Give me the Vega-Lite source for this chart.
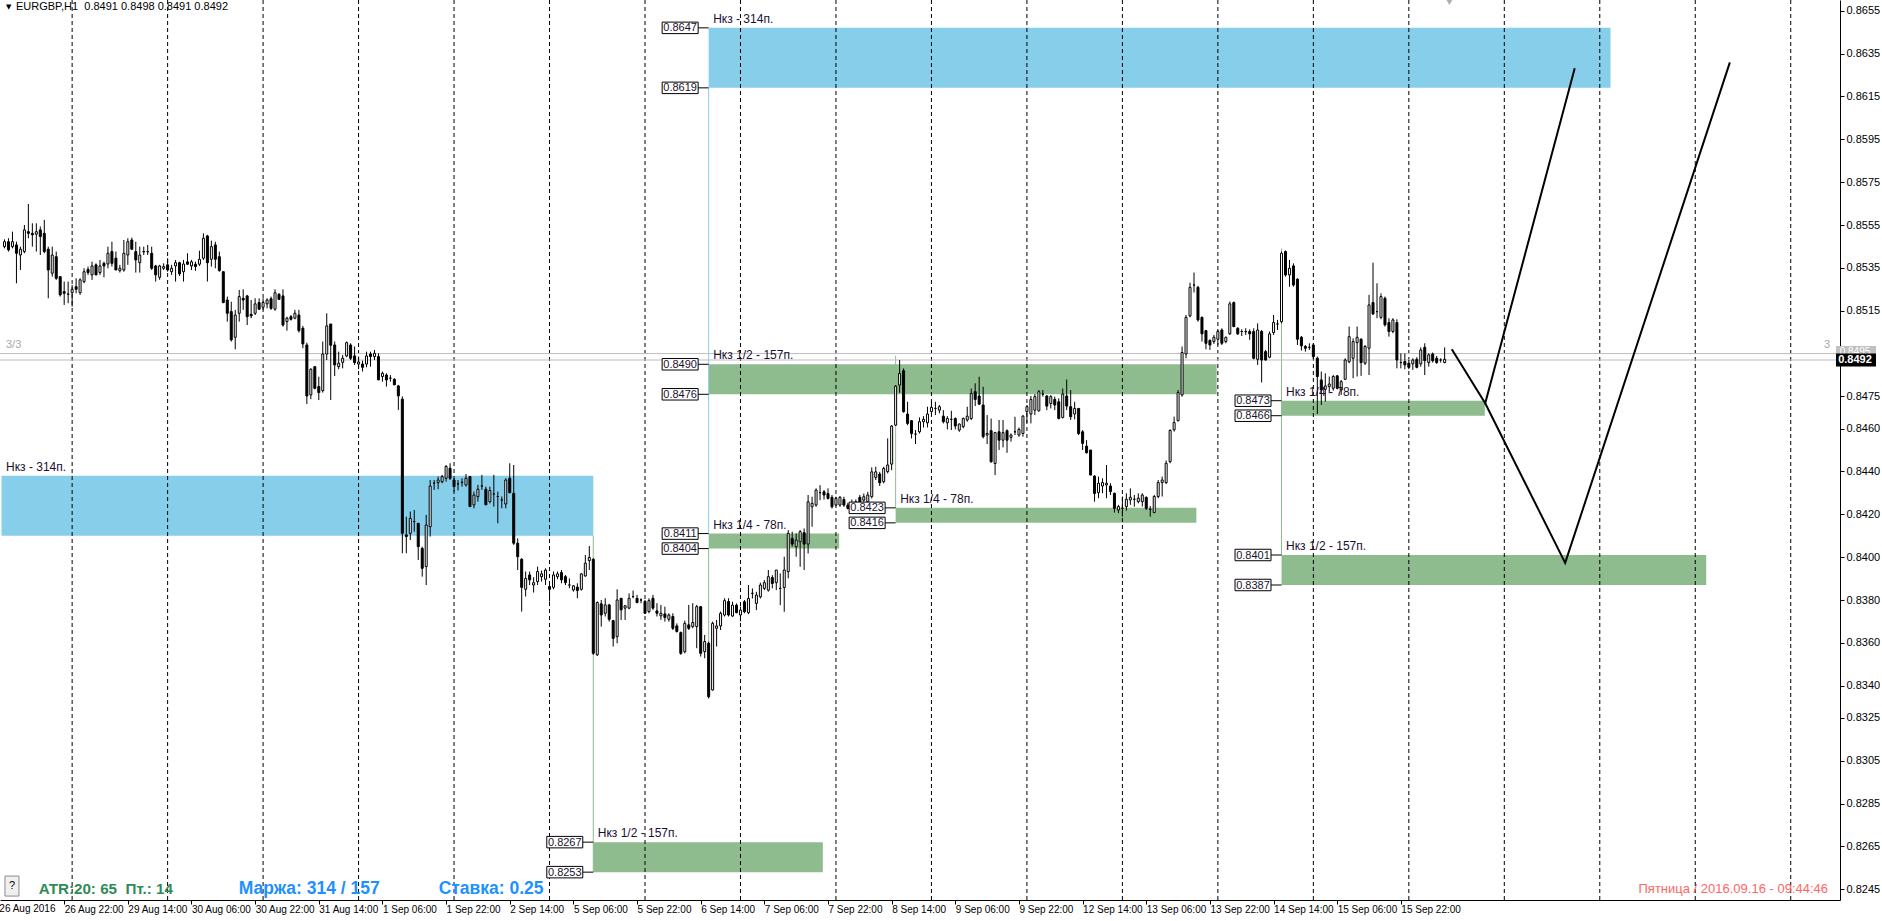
{
"$schema": "https://vega.github.io/schema/vega-lite/v6.json",
"width": 1840, "height": 900,
"autosize": {"type": "none"},
"padding": {"left": 0, "top": 0, "right": 42, "bottom": 21},
"background": "white",
"config": {"view": {"stroke": null}, "font": "Liberation Sans"},
"datasets": {
"one": [{}],
"zones": [
{"i":160,"i2":386.7,"p":0.8619,"p2":0.8647,"level":"full","label":"Нкз - 314п."},
{"i":160,"i2":287.7,"p":0.8476,"p2":0.8490,"level":"half","label":"Нкз 1/2 - 157п."},
{"i":160,"i2":192.8,"p":0.8404,"p2":0.8411,"level":"quarter","label":"Нкз 1/4 - 78п."},
{"i":-17.75,"i2":131,"p":0.8410,"p2":0.8438,"level":"full","label":"Нкз - 314п."},
{"i":131,"i2":188.7,"p":0.8253,"p2":0.8267,"level":"half","label":"Нкз 1/2 - 157п."},
{"i":207,"i2":282.6,"p":0.8416,"p2":0.8423,"level":"quarter","label":"Нкз 1/4 - 78п."},
{"i":304,"i2":355.1,"p":0.8466,"p2":0.8473,"level":"quarter","label":"Нкз 1/4 - 78п."},
{"i":304,"i2":410.75,"p":0.8387,"p2":0.8401,"level":"half","label":"Нкз 1/2 - 157п."}
],
"links": [
{"i":160,"p":0.8619,"p2":0.8411,"level":"full"},
{"i":160,"p":0.8404,"p2":0.8334,"level":"half"},
{"i":131,"p":0.8410,"p2":0.8253,"level":"half"},
{"i":207,"p":0.8423,"p2":0.8494,"level":"quarter"},
{"i":304,"p":0.8401,"p2":0.8544,"level":"quarter"}
],
"seps": [{"i":0},{"i":24},{"i":48},{"i":72},{"i":96},{"i":120},{"i":144},{"i":168},{"i":192},{"i":216},{"i":240},{"i":264},{"i":288},{"i":312},{"i":336},{"i":360},{"i":384},{"i":408},{"i":432}],
"plines": [{"p":0.8495},{"p":0.8492}],
"fc": [
{"s":"a","k":0,"i":346.8,"p":0.8497},{"s":"a","k":1,"i":355.2,"p":0.84718},{"s":"a","k":2,"i":377.7,"p":0.86281},
{"s":"b","k":0,"i":355.2,"p":0.84718},{"s":"b","k":1,"i":375.3,"p":0.83973},{"s":"b","k":2,"i":416.7,"p":0.86309}
],
"candles": [
{"i":-17,"o":0.85449,"h":0.85483,"l":0.85441,"c":0.85472},
{"i":-16,"o":0.85472,"h":0.85488,"l":0.85426,"c":0.85434},
{"i":-15,"o":0.85449,"h":0.85519,"l":0.85441,"c":0.85472},
{"i":-14,"o":0.85457,"h":0.85472,"l":0.85278,"c":0.85418},
{"i":-13,"o":0.8541,"h":0.85449,"l":0.8534,"c":0.85437},
{"i":-12,"o":0.85426,"h":0.8555,"l":0.85418,"c":0.85527},
{"i":-11,"o":0.85519,"h":0.85648,"l":0.85488,"c":0.85511},
{"i":-10,"o":0.85511,"h":0.85558,"l":0.85449,"c":0.85504},
{"i":-9,"o":0.85507,"h":0.85558,"l":0.85426,"c":0.85519},
{"i":-8,"o":0.85527,"h":0.85543,"l":0.8541,"c":0.85496},
{"i":-7,"o":0.85511,"h":0.85574,"l":0.85418,"c":0.85426},
{"i":-6,"o":0.85437,"h":0.85449,"l":0.85208,"c":0.8534},
{"i":-5,"o":0.85325,"h":0.85449,"l":0.85309,"c":0.8541},
{"i":-4,"o":0.85402,"h":0.85426,"l":0.85294,"c":0.85301},
{"i":-3,"o":0.85309,"h":0.85309,"l":0.85216,"c":0.85224},
{"i":-2,"o":0.85239,"h":0.85286,"l":0.85177,"c":0.85231},
{"i":-1,"o":0.85228,"h":0.85286,"l":0.85185,"c":0.85227},
{"i":0,"o":0.85234,"h":0.8527,"l":0.85169,"c":0.8525},
{"i":1,"o":0.85262,"h":0.85301,"l":0.85231,"c":0.8525},
{"i":2,"o":0.85234,"h":0.85301,"l":0.85224,"c":0.85294},
{"i":3,"o":0.85286,"h":0.85348,"l":0.85278,"c":0.85332},
{"i":4,"o":0.85343,"h":0.85356,"l":0.85317,"c":0.85328},
{"i":5,"o":0.85317,"h":0.85379,"l":0.85294,"c":0.85359},
{"i":6,"o":0.85364,"h":0.85371,"l":0.85317,"c":0.85317},
{"i":7,"o":0.85328,"h":0.85387,"l":0.85317,"c":0.85359},
{"i":8,"o":0.85371,"h":0.85379,"l":0.85306,"c":0.85359},
{"i":9,"o":0.85368,"h":0.85449,"l":0.85348,"c":0.85418},
{"i":10,"o":0.85426,"h":0.85472,"l":0.85356,"c":0.85371},
{"i":11,"o":0.85395,"h":0.85426,"l":0.8534,"c":0.8534},
{"i":12,"o":0.85337,"h":0.85364,"l":0.85328,"c":0.85348},
{"i":13,"o":0.8534,"h":0.8548,"l":0.85332,"c":0.85418},
{"i":14,"o":0.8541,"h":0.85488,"l":0.85364,"c":0.85472},
{"i":15,"o":0.8548,"h":0.85491,"l":0.85434,"c":0.85437},
{"i":16,"o":0.85426,"h":0.85472,"l":0.85328,"c":0.85387},
{"i":17,"o":0.85374,"h":0.85449,"l":0.85328,"c":0.8541},
{"i":18,"o":0.85426,"h":0.85449,"l":0.8541,"c":0.85425},
{"i":19,"o":0.85425,"h":0.85457,"l":0.8541,"c":0.85426},
{"i":20,"o":0.85418,"h":0.85449,"l":0.8534,"c":0.85348},
{"i":21,"o":0.85359,"h":0.85364,"l":0.85286,"c":0.85317},
{"i":22,"o":0.85306,"h":0.85364,"l":0.85294,"c":0.85359},
{"i":23,"o":0.85348,"h":0.85371,"l":0.8534,"c":0.85356},
{"i":24,"o":0.85364,"h":0.85395,"l":0.85332,"c":0.8534},
{"i":25,"o":0.85332,"h":0.85364,"l":0.85317,"c":0.85348},
{"i":26,"o":0.85359,"h":0.85387,"l":0.85286,"c":0.85374},
{"i":27,"o":0.85374,"h":0.85379,"l":0.85312,"c":0.85322},
{"i":28,"o":0.85332,"h":0.85387,"l":0.85286,"c":0.85368},
{"i":29,"o":0.85378,"h":0.85418,"l":0.85364,"c":0.85367},
{"i":30,"o":0.85359,"h":0.85387,"l":0.8534,"c":0.85378},
{"i":31,"o":0.85367,"h":0.85379,"l":0.85336,"c":0.85356},
{"i":32,"o":0.85367,"h":0.8543,"l":0.85359,"c":0.8539},
{"i":33,"o":0.85395,"h":0.85511,"l":0.85387,"c":0.85488},
{"i":34,"o":0.85499,"h":0.85504,"l":0.85286,"c":0.85374},
{"i":35,"o":0.8539,"h":0.85477,"l":0.85356,"c":0.85449},
{"i":36,"o":0.85457,"h":0.85472,"l":0.85348,"c":0.8539},
{"i":37,"o":0.85402,"h":0.85426,"l":0.85332,"c":0.85337},
{"i":38,"o":0.85332,"h":0.85332,"l":0.85185,"c":0.85188},
{"i":39,"o":0.852,"h":0.85216,"l":0.85099,"c":0.85138},
{"i":40,"o":0.85146,"h":0.85192,"l":0.85006,"c":0.85014},
{"i":41,"o":0.85026,"h":0.85154,"l":0.8497,"c":0.8513},
{"i":42,"o":0.85138,"h":0.85247,"l":0.85099,"c":0.85216},
{"i":43,"o":0.85208,"h":0.8525,"l":0.85154,"c":0.852},
{"i":44,"o":0.85219,"h":0.85224,"l":0.85083,"c":0.85122},
{"i":45,"o":0.85133,"h":0.852,"l":0.85115,"c":0.85126},
{"i":46,"o":0.85138,"h":0.85208,"l":0.8513,"c":0.85182},
{"i":47,"o":0.85188,"h":0.85208,"l":0.85154,"c":0.85157},
{"i":48,"o":0.85166,"h":0.85208,"l":0.85154,"c":0.85188},
{"i":49,"o":0.85182,"h":0.85208,"l":0.85161,"c":0.852},
{"i":50,"o":0.85206,"h":0.85216,"l":0.85154,"c":0.85161},
{"i":51,"o":0.85157,"h":0.8525,"l":0.8515,"c":0.85234},
{"i":52,"o":0.85227,"h":0.85231,"l":0.852,"c":0.85203},
{"i":53,"o":0.85219,"h":0.8525,"l":0.85076,"c":0.85083},
{"i":54,"o":0.85099,"h":0.85122,"l":0.85057,"c":0.85115},
{"i":55,"o":0.85122,"h":0.8513,"l":0.85104,"c":0.8511},
{"i":56,"o":0.85115,"h":0.85154,"l":0.8511,"c":0.85138},
{"i":57,"o":0.8513,"h":0.85154,"l":0.85048,"c":0.85057},
{"i":58,"o":0.85068,"h":0.85079,"l":0.84975,"c":0.84995},
{"i":59,"o":0.8499,"h":0.85001,"l":0.84715,"c":0.84752},
{"i":60,"o":0.84757,"h":0.84881,"l":0.84737,"c":0.84877},
{"i":61,"o":0.84889,"h":0.84889,"l":0.84783,"c":0.84788},
{"i":62,"o":0.84796,"h":0.84842,"l":0.84733,"c":0.84768},
{"i":63,"o":0.84777,"h":0.85006,"l":0.84768,"c":0.84948},
{"i":64,"o":0.84948,"h":0.85138,"l":0.8492,"c":0.85079},
{"i":65,"o":0.85088,"h":0.85088,"l":0.84733,"c":0.84989},
{"i":66,"o":0.8499,"h":0.85006,"l":0.84845,"c":0.84897},
{"i":67,"o":0.84889,"h":0.84959,"l":0.84877,"c":0.84905},
{"i":68,"o":0.84909,"h":0.84943,"l":0.84881,"c":0.84928},
{"i":69,"o":0.84939,"h":0.85006,"l":0.84933,"c":0.85001},
{"i":70,"o":0.8499,"h":0.84998,"l":0.8492,"c":0.84928},
{"i":71,"o":0.84939,"h":0.84983,"l":0.84897,"c":0.84908},
{"i":72,"o":0.84901,"h":0.84936,"l":0.84877,"c":0.84911},
{"i":73,"o":0.84901,"h":0.84917,"l":0.84866,"c":0.84886},
{"i":74,"o":0.84901,"h":0.84959,"l":0.84886,"c":0.84939},
{"i":75,"o":0.84948,"h":0.84959,"l":0.84889,"c":0.84936},
{"i":76,"o":0.84936,"h":0.84967,"l":0.8492,"c":0.84951},
{"i":77,"o":0.84936,"h":0.84951,"l":0.84827,"c":0.84827},
{"i":78,"o":0.84843,"h":0.84866,"l":0.84819,"c":0.84858},
{"i":79,"o":0.8485,"h":0.84858,"l":0.84796,"c":0.84827},
{"i":80,"o":0.84835,"h":0.8485,"l":0.84819,"c":0.84835},
{"i":81,"o":0.8483,"h":0.84835,"l":0.84804,"c":0.84804},
{"i":82,"o":0.84799,"h":0.84804,"l":0.84687,"c":0.84752},
{"i":83,"o":0.84737,"h":0.8475,"l":0.84018,"c":0.84111},
{"i":84,"o":0.84104,"h":0.84189,"l":0.84018,"c":0.84096},
{"i":85,"o":0.84111,"h":0.84213,"l":0.8408,"c":0.84181},
{"i":86,"o":0.84166,"h":0.8422,"l":0.84119,"c":0.84166},
{"i":87,"o":0.84158,"h":0.84158,"l":0.83987,"c":0.84049},
{"i":88,"o":0.84041,"h":0.84049,"l":0.83909,"c":0.83948},
{"i":89,"o":0.83956,"h":0.84197,"l":0.8387,"c":0.8415},
{"i":90,"o":0.84142,"h":0.8436,"l":0.84096,"c":0.84332},
{"i":91,"o":0.84345,"h":0.8436,"l":0.84314,"c":0.84345},
{"i":92,"o":0.84348,"h":0.84376,"l":0.84317,"c":0.8436},
{"i":93,"o":0.84352,"h":0.84384,"l":0.84345,"c":0.84376},
{"i":94,"o":0.84368,"h":0.8443,"l":0.84352,"c":0.84423},
{"i":95,"o":0.84415,"h":0.84438,"l":0.8436,"c":0.84368},
{"i":96,"o":0.8436,"h":0.84368,"l":0.84306,"c":0.84329},
{"i":97,"o":0.84342,"h":0.8436,"l":0.84311,"c":0.84342},
{"i":98,"o":0.84348,"h":0.84368,"l":0.84329,"c":0.8435},
{"i":99,"o":0.84337,"h":0.84388,"l":0.84329,"c":0.84368},
{"i":100,"o":0.84376,"h":0.84379,"l":0.84236,"c":0.84236},
{"i":101,"o":0.84244,"h":0.84306,"l":0.84228,"c":0.8429},
{"i":102,"o":0.84282,"h":0.84337,"l":0.84259,"c":0.84317},
{"i":103,"o":0.84332,"h":0.84384,"l":0.84314,"c":0.84332},
{"i":104,"o":0.84317,"h":0.84329,"l":0.84244,"c":0.84244},
{"i":105,"o":0.84259,"h":0.84329,"l":0.84251,"c":0.84311},
{"i":106,"o":0.84295,"h":0.84384,"l":0.84236,"c":0.84295},
{"i":107,"o":0.84283,"h":0.84306,"l":0.84158,"c":0.84283},
{"i":108,"o":0.84267,"h":0.84283,"l":0.84228,"c":0.84267},
{"i":109,"o":0.84248,"h":0.84368,"l":0.84228,"c":0.8436},
{"i":110,"o":0.84368,"h":0.84438,"l":0.84298,"c":0.84301},
{"i":111,"o":0.84298,"h":0.8443,"l":0.84057,"c":0.84065},
{"i":112,"o":0.84065,"h":0.84088,"l":0.8394,"c":0.84002},
{"i":113,"o":0.8399,"h":0.83995,"l":0.83746,"c":0.83859},
{"i":114,"o":0.8385,"h":0.83933,"l":0.83816,"c":0.83901},
{"i":115,"o":0.83917,"h":0.83933,"l":0.8387,"c":0.83894},
{"i":116,"o":0.8387,"h":0.83906,"l":0.83835,"c":0.83881},
{"i":117,"o":0.83886,"h":0.83956,"l":0.8387,"c":0.83933},
{"i":118,"o":0.83909,"h":0.83937,"l":0.83886,"c":0.83922},
{"i":119,"o":0.83897,"h":0.83948,"l":0.8387,"c":0.8394},
{"i":120,"o":0.83863,"h":0.8387,"l":0.83793,"c":0.8385},
{"i":121,"o":0.83859,"h":0.83933,"l":0.8385,"c":0.83917},
{"i":122,"o":0.83909,"h":0.83933,"l":0.83897,"c":0.83922},
{"i":123,"o":0.83928,"h":0.8394,"l":0.83878,"c":0.83894},
{"i":124,"o":0.83909,"h":0.83917,"l":0.8387,"c":0.83881},
{"i":125,"o":0.8387,"h":0.83901,"l":0.83855,"c":0.8387},
{"i":126,"o":0.83847,"h":0.8387,"l":0.83839,"c":0.83866},
{"i":127,"o":0.8386,"h":0.83878,"l":0.83808,"c":0.83844},
{"i":128,"o":0.8385,"h":0.83925,"l":0.83844,"c":0.83922},
{"i":129,"o":0.83912,"h":0.8401,"l":0.83909,"c":0.83972},
{"i":130,"o":0.83984,"h":0.84052,"l":0.8394,"c":0.83999},
{"i":131,"o":0.8399,"h":0.83995,"l":0.83544,"c":0.83551},
{"i":132,"o":0.83544,"h":0.83793,"l":0.83539,"c":0.83788},
{"i":133,"o":0.83782,"h":0.838,"l":0.83676,"c":0.8373},
{"i":134,"o":0.83738,"h":0.83808,"l":0.83723,"c":0.83777},
{"i":135,"o":0.83777,"h":0.83782,"l":0.83699,"c":0.8371},
{"i":136,"o":0.83704,"h":0.83707,"l":0.83583,"c":0.83621},
{"i":137,"o":0.83629,"h":0.8385,"l":0.83598,"c":0.838},
{"i":138,"o":0.83808,"h":0.83808,"l":0.83707,"c":0.83754},
{"i":139,"o":0.83762,"h":0.83777,"l":0.83707,"c":0.83773},
{"i":140,"o":0.83762,"h":0.83831,"l":0.83757,"c":0.83808},
{"i":141,"o":0.83816,"h":0.83844,"l":0.83808,"c":0.83816},
{"i":142,"o":0.83808,"h":0.83824,"l":0.83785,"c":0.83788},
{"i":143,"o":0.838,"h":0.83808,"l":0.83785,"c":0.838},
{"i":144,"o":0.83793,"h":0.838,"l":0.83738,"c":0.83738},
{"i":145,"o":0.83746,"h":0.83808,"l":0.83738,"c":0.83797},
{"i":146,"o":0.83808,"h":0.83824,"l":0.83754,"c":0.83762},
{"i":147,"o":0.83749,"h":0.83785,"l":0.83723,"c":0.83738},
{"i":148,"o":0.83726,"h":0.83777,"l":0.83707,"c":0.83738},
{"i":149,"o":0.83735,"h":0.83769,"l":0.83699,"c":0.83718},
{"i":150,"o":0.8371,"h":0.83738,"l":0.83699,"c":0.8373},
{"i":151,"o":0.83723,"h":0.83738,"l":0.8366,"c":0.83668},
{"i":152,"o":0.83679,"h":0.83691,"l":0.83648,"c":0.83653},
{"i":153,"o":0.83648,"h":0.83653,"l":0.83544,"c":0.83551},
{"i":154,"o":0.83559,"h":0.83704,"l":0.83551,"c":0.83691},
{"i":155,"o":0.83684,"h":0.83777,"l":0.8366,"c":0.83668},
{"i":156,"o":0.83676,"h":0.83785,"l":0.83668,"c":0.83695},
{"i":157,"o":0.83676,"h":0.83777,"l":0.83575,"c":0.83769},
{"i":158,"o":0.83769,"h":0.83772,"l":0.83536,"c":0.83551},
{"i":159,"o":0.83559,"h":0.83637,"l":0.83528,"c":0.83606},
{"i":160,"o":0.83598,"h":0.83606,"l":0.83341,"c":0.83349},
{"i":161,"o":0.8338,"h":0.83699,"l":0.83377,"c":0.83691},
{"i":162,"o":0.83668,"h":0.83707,"l":0.83583,"c":0.83679},
{"i":163,"o":0.83679,"h":0.83746,"l":0.8366,"c":0.83738},
{"i":164,"o":0.8373,"h":0.83808,"l":0.83723,"c":0.83797},
{"i":165,"o":0.83793,"h":0.83808,"l":0.83723,"c":0.8373},
{"i":166,"o":0.83725,"h":0.83792,"l":0.83722,"c":0.83776},
{"i":167,"o":0.83776,"h":0.83784,"l":0.83738,"c":0.83741},
{"i":168,"o":0.8373,"h":0.83769,"l":0.837,"c":0.83753},
{"i":169,"o":0.83792,"h":0.838,"l":0.83738,"c":0.83745},
{"i":170,"o":0.83741,"h":0.8387,"l":0.83734,"c":0.83807},
{"i":171,"o":0.83831,"h":0.83854,"l":0.83807,"c":0.83831},
{"i":172,"o":0.83784,"h":0.83838,"l":0.83753,"c":0.83823},
{"i":173,"o":0.83815,"h":0.83881,"l":0.83807,"c":0.8387},
{"i":174,"o":0.83854,"h":0.83893,"l":0.83846,"c":0.83881},
{"i":175,"o":0.83846,"h":0.8394,"l":0.83839,"c":0.83909},
{"i":176,"o":0.83905,"h":0.83916,"l":0.83854,"c":0.83877},
{"i":177,"o":0.83881,"h":0.8394,"l":0.83846,"c":0.8394},
{"i":178,"o":0.83854,"h":0.83924,"l":0.83776,"c":0.83854},
{"i":179,"o":0.83858,"h":0.84002,"l":0.83745,"c":0.8394},
{"i":180,"o":0.83932,"h":0.84126,"l":0.83901,"c":0.84111},
{"i":181,"o":0.84087,"h":0.84119,"l":0.84049,"c":0.84061},
{"i":182,"o":0.84049,"h":0.84111,"l":0.84002,"c":0.8408},
{"i":183,"o":0.84072,"h":0.84126,"l":0.83955,"c":0.84119},
{"i":184,"o":0.84114,"h":0.84134,"l":0.8394,"c":0.84061},
{"i":185,"o":0.84061,"h":0.8429,"l":0.84017,"c":0.84258},
{"i":186,"o":0.84235,"h":0.84282,"l":0.84142,"c":0.84251},
{"i":187,"o":0.84243,"h":0.84321,"l":0.84235,"c":0.84313},
{"i":188,"o":0.84301,"h":0.84336,"l":0.84266,"c":0.84301},
{"i":189,"o":0.84305,"h":0.84313,"l":0.84269,"c":0.8429},
{"i":190,"o":0.84297,"h":0.84321,"l":0.84269,"c":0.84274},
{"i":191,"o":0.84279,"h":0.8429,"l":0.84227,"c":0.84235},
{"i":192,"o":0.84243,"h":0.84282,"l":0.84238,"c":0.84274},
{"i":193,"o":0.84243,"h":0.84285,"l":0.84235,"c":0.84279},
{"i":194,"o":0.84269,"h":0.84282,"l":0.84235,"c":0.84243},
{"i":195,"o":0.84243,"h":0.84254,"l":0.84223,"c":0.84227},
{"i":196,"o":0.84235,"h":0.84269,"l":0.84223,"c":0.84251},
{"i":197,"o":0.84243,"h":0.84269,"l":0.84235,"c":0.84258},
{"i":198,"o":0.84279,"h":0.8429,"l":0.84251,"c":0.84258},
{"i":199,"o":0.84266,"h":0.84297,"l":0.84258,"c":0.84282},
{"i":200,"o":0.84258,"h":0.84305,"l":0.84251,"c":0.8429},
{"i":201,"o":0.84282,"h":0.84419,"l":0.84274,"c":0.84398},
{"i":202,"o":0.84372,"h":0.84422,"l":0.8436,"c":0.84398},
{"i":203,"o":0.84388,"h":0.84398,"l":0.84332,"c":0.84347},
{"i":204,"o":0.84352,"h":0.84422,"l":0.84344,"c":0.84414},
{"i":205,"o":0.84399,"h":0.84554,"l":0.84391,"c":0.8443},
{"i":206,"o":0.84434,"h":0.84616,"l":0.84406,"c":0.84612},
{"i":207,"o":0.84616,"h":0.84803,"l":0.84612,"c":0.84798},
{"i":208,"o":0.84803,"h":0.8492,"l":0.84767,"c":0.84857},
{"i":209,"o":0.8487,"h":0.84881,"l":0.84674,"c":0.84679},
{"i":210,"o":0.84668,"h":0.84725,"l":0.84616,"c":0.84624},
{"i":211,"o":0.84637,"h":0.8464,"l":0.84554,"c":0.84577},
{"i":212,"o":0.84574,"h":0.84593,"l":0.84528,"c":0.84574},
{"i":213,"o":0.84585,"h":0.84652,"l":0.84577,"c":0.84632},
{"i":214,"o":0.84632,"h":0.84658,"l":0.84605,"c":0.84643},
{"i":215,"o":0.84627,"h":0.84702,"l":0.84605,"c":0.84668},
{"i":216,"o":0.84679,"h":0.84725,"l":0.84668,"c":0.84699},
{"i":217,"o":0.84694,"h":0.84725,"l":0.84663,"c":0.84694},
{"i":218,"o":0.84686,"h":0.8471,"l":0.84671,"c":0.84702},
{"i":219,"o":0.84658,"h":0.84686,"l":0.84624,"c":0.84632},
{"i":220,"o":0.84627,"h":0.84658,"l":0.84596,"c":0.84647},
{"i":221,"o":0.84643,"h":0.84683,"l":0.84593,"c":0.84643},
{"i":222,"o":0.84647,"h":0.84652,"l":0.84596,"c":0.84612},
{"i":223,"o":0.84593,"h":0.84624,"l":0.84585,"c":0.84621},
{"i":224,"o":0.84609,"h":0.84652,"l":0.84601,"c":0.84647},
{"i":225,"o":0.8464,"h":0.84702,"l":0.84632,"c":0.84658},
{"i":226,"o":0.84647,"h":0.84787,"l":0.8464,"c":0.84764},
{"i":227,"o":0.84772,"h":0.84811,"l":0.84705,"c":0.84736},
{"i":228,"o":0.84752,"h":0.84842,"l":0.8471,"c":0.84714},
{"i":229,"o":0.8471,"h":0.84795,"l":0.84554,"c":0.84562},
{"i":230,"o":0.8457,"h":0.84663,"l":0.84528,"c":0.84577},
{"i":231,"o":0.8459,"h":0.84647,"l":0.84441,"c":0.84445},
{"i":232,"o":0.84437,"h":0.84585,"l":0.84383,"c":0.84581},
{"i":233,"o":0.84585,"h":0.8464,"l":0.845,"c":0.84546},
{"i":234,"o":0.84546,"h":0.8464,"l":0.84512,"c":0.84581},
{"i":235,"o":0.8459,"h":0.84596,"l":0.84487,"c":0.84546},
{"i":236,"o":0.84559,"h":0.84577,"l":0.84539,"c":0.8457},
{"i":237,"o":0.84585,"h":0.84655,"l":0.8457,"c":0.84585},
{"i":238,"o":0.8457,"h":0.84605,"l":0.84562,"c":0.84596},
{"i":239,"o":0.84577,"h":0.84663,"l":0.84562,"c":0.84658},
{"i":240,"o":0.84679,"h":0.8471,"l":0.84627,"c":0.84702},
{"i":241,"o":0.84668,"h":0.84752,"l":0.84624,"c":0.84736},
{"i":242,"o":0.84686,"h":0.84761,"l":0.84663,"c":0.84749},
{"i":243,"o":0.84683,"h":0.8478,"l":0.84679,"c":0.84772},
{"i":244,"o":0.84761,"h":0.8478,"l":0.84749,"c":0.84761},
{"i":245,"o":0.84752,"h":0.84756,"l":0.84686,"c":0.84705},
{"i":246,"o":0.84717,"h":0.84756,"l":0.84694,"c":0.84749},
{"i":247,"o":0.84736,"h":0.84749,"l":0.84686,"c":0.8471},
{"i":248,"o":0.84725,"h":0.84741,"l":0.84643,"c":0.84647},
{"i":249,"o":0.84652,"h":0.84787,"l":0.84647,"c":0.84761},
{"i":250,"o":0.84752,"h":0.84829,"l":0.84686,"c":0.84705},
{"i":251,"o":0.84702,"h":0.8478,"l":0.8464,"c":0.84655},
{"i":252,"o":0.84668,"h":0.84725,"l":0.84643,"c":0.84694},
{"i":253,"o":0.84694,"h":0.84694,"l":0.8457,"c":0.84577},
{"i":254,"o":0.84585,"h":0.84593,"l":0.845,"c":0.84531},
{"i":255,"o":0.84518,"h":0.84546,"l":0.84484,"c":0.84487},
{"i":256,"o":0.845,"h":0.845,"l":0.84383,"c":0.84383},
{"i":257,"o":0.84378,"h":0.84383,"l":0.84259,"c":0.84297},
{"i":258,"o":0.84301,"h":0.84376,"l":0.84275,"c":0.84345},
{"i":259,"o":0.84332,"h":0.84368,"l":0.84298,"c":0.84348},
{"i":260,"o":0.84337,"h":0.8443,"l":0.84275,"c":0.84345},
{"i":261,"o":0.84332,"h":0.84345,"l":0.8429,"c":0.84306},
{"i":262,"o":0.84298,"h":0.84301,"l":0.84208,"c":0.84228},
{"i":263,"o":0.8422,"h":0.84244,"l":0.84205,"c":0.84236},
{"i":264,"o":0.84228,"h":0.84283,"l":0.84189,"c":0.84228},
{"i":265,"o":0.84236,"h":0.84298,"l":0.84217,"c":0.8427},
{"i":266,"o":0.84267,"h":0.84321,"l":0.84244,"c":0.84279},
{"i":267,"o":0.8427,"h":0.8429,"l":0.84236,"c":0.8427},
{"i":268,"o":0.84259,"h":0.84298,"l":0.84251,"c":0.84275},
{"i":269,"o":0.84259,"h":0.84298,"l":0.84236,"c":0.8429},
{"i":270,"o":0.84279,"h":0.84283,"l":0.8422,"c":0.84228},
{"i":271,"o":0.84223,"h":0.84239,"l":0.84189,"c":0.84223},
{"i":272,"o":0.84208,"h":0.8429,"l":0.84205,"c":0.84283},
{"i":273,"o":0.84283,"h":0.8436,"l":0.84275,"c":0.84348},
{"i":274,"o":0.84348,"h":0.84376,"l":0.84283,"c":0.8436},
{"i":275,"o":0.84348,"h":0.84451,"l":0.84341,"c":0.84438},
{"i":276,"o":0.84446,"h":0.84597,"l":0.84438,"c":0.84591},
{"i":277,"o":0.84594,"h":0.84656,"l":0.84586,"c":0.84628},
{"i":278,"o":0.84637,"h":0.8478,"l":0.84633,"c":0.84768},
{"i":279,"o":0.84757,"h":0.84983,"l":0.84749,"c":0.84955},
{"i":280,"o":0.84948,"h":0.8513,"l":0.84928,"c":0.85119},
{"i":281,"o":0.85126,"h":0.85281,"l":0.85119,"c":0.85259},
{"i":282,"o":0.8527,"h":0.85328,"l":0.85235,"c":0.8527},
{"i":283,"o":0.85259,"h":0.85266,"l":0.85099,"c":0.85107},
{"i":284,"o":0.85119,"h":0.85123,"l":0.85006,"c":0.85042},
{"i":285,"o":0.85057,"h":0.8506,"l":0.8497,"c":0.84998},
{"i":286,"o":0.85011,"h":0.85017,"l":0.84967,"c":0.8499},
{"i":287,"o":0.85006,"h":0.85037,"l":0.84995,"c":0.85026},
{"i":288,"o":0.85017,"h":0.8506,"l":0.8499,"c":0.85053},
{"i":289,"o":0.8506,"h":0.85068,"l":0.8499,"c":0.84998},
{"i":290,"o":0.85006,"h":0.85029,"l":0.84998,"c":0.85026},
{"i":291,"o":0.85042,"h":0.85193,"l":0.85037,"c":0.85182},
{"i":292,"o":0.85188,"h":0.85193,"l":0.85073,"c":0.85076},
{"i":293,"o":0.85068,"h":0.85073,"l":0.85037,"c":0.85042},
{"i":294,"o":0.85053,"h":0.85063,"l":0.85032,"c":0.85053},
{"i":295,"o":0.85053,"h":0.85068,"l":0.85037,"c":0.85052},
{"i":296,"o":0.85053,"h":0.85063,"l":0.85014,"c":0.85042},
{"i":297,"o":0.85053,"h":0.85068,"l":0.84923,"c":0.84928},
{"i":298,"o":0.84923,"h":0.85091,"l":0.84897,"c":0.8506},
{"i":299,"o":0.85053,"h":0.8506,"l":0.84815,"c":0.8492},
{"i":300,"o":0.84959,"h":0.84967,"l":0.84917,"c":0.8492},
{"i":301,"o":0.84933,"h":0.85053,"l":0.84928,"c":0.85042},
{"i":302,"o":0.85048,"h":0.8513,"l":0.85037,"c":0.85095},
{"i":303,"o":0.85088,"h":0.85107,"l":0.8506,"c":0.85088},
{"i":304,"o":0.85099,"h":0.85426,"l":0.85091,"c":0.85418},
{"i":305,"o":0.85426,"h":0.85431,"l":0.85309,"c":0.85317},
{"i":306,"o":0.85317,"h":0.85387,"l":0.85262,"c":0.85348},
{"i":307,"o":0.85359,"h":0.85371,"l":0.85262,"c":0.8527},
{"i":308,"o":0.85297,"h":0.85301,"l":0.8499,"c":0.85017},
{"i":309,"o":0.85026,"h":0.85032,"l":0.84964,"c":0.84986},
{"i":310,"o":0.84983,"h":0.8499,"l":0.84959,"c":0.84975},
{"i":311,"o":0.84979,"h":0.84998,"l":0.84967,"c":0.84979},
{"i":312,"o":0.8499,"h":0.84998,"l":0.84923,"c":0.84936},
{"i":313,"o":0.84928,"h":0.84936,"l":0.84668,"c":0.84843},
{"i":314,"o":0.84827,"h":0.84866,"l":0.8471,"c":0.8478},
{"i":315,"o":0.84783,"h":0.84858,"l":0.84726,"c":0.84799},
{"i":316,"o":0.84796,"h":0.84843,"l":0.84765,"c":0.84808},
{"i":317,"o":0.84788,"h":0.8485,"l":0.84777,"c":0.84843},
{"i":318,"o":0.84846,"h":0.8485,"l":0.84783,"c":0.84788},
{"i":319,"o":0.8478,"h":0.84827,"l":0.84757,"c":0.84819},
{"i":320,"o":0.8483,"h":0.84928,"l":0.84827,"c":0.8492},
{"i":321,"o":0.84912,"h":0.85076,"l":0.84905,"c":0.85029},
{"i":322,"o":0.84928,"h":0.85021,"l":0.84835,"c":0.85006},
{"i":323,"o":0.85001,"h":0.85076,"l":0.84843,"c":0.85026},
{"i":324,"o":0.85017,"h":0.85021,"l":0.84846,"c":0.84908},
{"i":325,"o":0.84905,"h":0.8499,"l":0.84897,"c":0.84983},
{"i":326,"o":0.84975,"h":0.85224,"l":0.8485,"c":0.85177},
{"i":327,"o":0.85188,"h":0.85374,"l":0.8513,"c":0.85135},
{"i":328,"o":0.85146,"h":0.85278,"l":0.85115,"c":0.85146},
{"i":329,"o":0.85119,"h":0.85231,"l":0.8511,"c":0.85216},
{"i":330,"o":0.85208,"h":0.85216,"l":0.85076,"c":0.85084},
{"i":331,"o":0.85095,"h":0.85115,"l":0.85029,"c":0.85053},
{"i":332,"o":0.85053,"h":0.85115,"l":0.85045,"c":0.85107},
{"i":333,"o":0.85095,"h":0.8511,"l":0.84881,"c":0.8492},
{"i":334,"o":0.84908,"h":0.84951,"l":0.84881,"c":0.84908},
{"i":335,"o":0.84913,"h":0.84951,"l":0.84877,"c":0.84897},
{"i":336,"o":0.84905,"h":0.8492,"l":0.84877,"c":0.84886},
{"i":337,"o":0.84902,"h":0.84928,"l":0.84874,"c":0.8492},
{"i":338,"o":0.84923,"h":0.84933,"l":0.84881,"c":0.84886},
{"i":339,"o":0.84902,"h":0.84979,"l":0.84889,"c":0.84967},
{"i":340,"o":0.84979,"h":0.84998,"l":0.8485,"c":0.84917},
{"i":341,"o":0.84908,"h":0.84951,"l":0.84889,"c":0.84944},
{"i":342,"o":0.84948,"h":0.84955,"l":0.84908,"c":0.84917},
{"i":343,"o":0.84928,"h":0.84939,"l":0.84902,"c":0.84908},
{"i":344,"o":0.8492,"h":0.84928,"l":0.84908,"c":0.8492},
{"i":345,"o":0.84908,"h":0.84979,"l":0.84905,"c":0.84923}
]
},
"layer": [
{
"data": {"name": "zones"},
"mark": {"type": "rect"},
"encoding": {
"x": {"field": "i", "type": "quantitative", "scale": {"domain": [-16.875, 443.125], "nice": false, "zero": false},
"axis": {"orient": "bottom", "title": null, "grid": false, "values": [-2,14,30,46,62,78,94,110,126,142,158,174,190,206,222,238,254,270,286,302,318,334],
"labelExpr": "['26 Aug 22:00','29 Aug 14:00','30 Aug 06:00','30 Aug 22:00','31 Aug 14:00','1 Sep 06:00','1 Sep 22:00','2 Sep 14:00','5 Sep 06:00','5 Sep 22:00','6 Sep 14:00','7 Sep 06:00','7 Sep 22:00','8 Sep 14:00','9 Sep 06:00','9 Sep 22:00','12 Sep 14:00','13 Sep 06:00','13 Sep 22:00','14 Sep 14:00','15 Sep 06:00','15 Sep 22:00'][(datum.value+2)/16]",
"labelAlign": "left", "labelBaseline": "middle", "labelPadding": 5, "labelDx": 0, "labelFont": "Liberation Sans", "labelFontSize": 10, "labelColor": "black",
"labelFlush": false, "labelOverlap": false, "labelBound": false, "tickSize": 4, "tickColor": "black", "domainColor": "black"}},
"x2": {"field": "i2"},
"y": {"field": "p", "type": "quantitative", "scale": {"domain": [0.824, 0.866], "nice": false, "zero": false},
"axis": {"orient": "right", "title": null, "grid": false, "values": [0.8655,0.8635,0.8615,0.8595,0.8575,0.8555,0.8535,0.8515,0.8475,0.846,0.844,0.842,0.84,0.838,0.836,0.834,0.8325,0.8305,0.8285,0.8265,0.8245],
"format": ".4f", "labelAlign": "left", "labelBaseline": "middle", "labelPadding": 2, "labelFont": "Liberation Sans", "labelFontSize": 11, "labelColor": "black",
"labelFlush": false, "labelOverlap": false, "labelBound": false, "tickSize": 4, "tickColor": "black", "domainColor": "black"}},
"y2": {"field": "p2"},
"color": {"field": "level", "type": "nominal", "scale": {"domain": ["full","half","quarter"], "range": ["#87CEEB","#8FBC8F","#8FBC8F"]}, "legend": null}
}
},
{
"data": {"name": "links"},
"mark": {"type": "rule", "strokeWidth": 1},
"encoding": {
"x": {"field": "i", "type": "quantitative"},
"y": {"field": "p", "type": "quantitative"},
"y2": {"field": "p2"},
"color": {"field": "level", "type": "nominal", "legend": null}
}
},
{
"data": {"name": "seps"},
"mark": {"type": "rule", "color": "black", "strokeWidth": 1, "strokeDash": [4, 3]},
"encoding": {"x": {"field": "i", "type": "quantitative"}}
},
{
"data": {"name": "plines"},
"mark": {"type": "rule", "color": "#BDBDBD", "strokeWidth": 1},
"encoding": {"y": {"field": "p", "type": "quantitative"}}
},
{
"data": {"name": "candles"},
"mark": {"type": "rule", "color": "black", "strokeWidth": 1},
"encoding": {
"x": {"field": "i", "type": "quantitative"},
"y": {"field": "l", "type": "quantitative"},
"y2": {"field": "h"}
}
},
{
"data": {"name": "candles"},
"mark": {"type": "bar", "width": 2, "stroke": "black", "strokeWidth": 1},
"encoding": {
"x": {"field": "i", "type": "quantitative"},
"y": {"field": "o", "type": "quantitative"},
"y2": {"field": "c"},
"fill": {"condition": {"test": "datum.c >= datum.o", "value": "white"}, "value": "black"}
}
},
{
"data": {"name": "fc"},
"mark": {"type": "line", "color": "black", "strokeWidth": 2},
"encoding": {
"x": {"field": "i", "type": "quantitative"},
"y": {"field": "p", "type": "quantitative"},
"detail": {"field": "s"},
"order": {"field": "k"}
}
},
{
"data": {"name": "zones"},
"mark": {"type": "text", "align": "left", "baseline": "middle", "dx": 4.5, "dy": -9, "font": "Liberation Sans", "fontSize": 12, "color": "#1a1030"},
"encoding": {
"x": {"field": "i", "type": "quantitative"},
"y": {"field": "p2", "type": "quantitative"},
"text": {"field": "label"}
}
},
{
"data": {"name": "zones"},
"transform": [{"filter": "datum.i > 0"}, {"fold": ["p", "p2"], "as": ["side", "price"]}],
"mark": {"type": "point", "filled": true, "fill": "white", "stroke": "black", "strokeWidth": 1, "opacity": 1, "size": 2162, "xOffset": -23.25,
"shape": "M-1,-0.247L0.548,-0.247L0.548,0.247L-1,0.247ZM0.548,0L1,0"},
"encoding": {
"x": {"field": "i", "type": "quantitative"},
"y": {"field": "price", "type": "quantitative"}
}
},
{
"data": {"name": "zones"},
"transform": [{"filter": "datum.i > 0"}, {"fold": ["p", "p2"], "as": ["side", "price"]}],
"mark": {"type": "text", "align": "center", "baseline": "middle", "dx": -28.5, "dy": 0.5, "font": "Liberation Sans", "fontSize": 11, "color": "#1a1030"},
"encoding": {
"x": {"field": "i", "type": "quantitative"},
"y": {"field": "price", "type": "quantitative"},
"text": {"field": "price", "type": "quantitative", "format": ".4f"}
}
},
{
"data": {"name": "one"},
"mark": {"type": "text", "align": "left", "baseline": "middle", "dy": 9, "fontSize": 10, "color": "black", "text": "26 Aug 2016", "clip": false},
"encoding": {"x": {"datum": -18.3, "type": "quantitative"}, "y": {"datum": 0.824, "type": "quantitative"}}
},
{
"data": {"name": "one"},
"mark": {"type": "text", "align": "left", "baseline": "middle", "dx": 1, "dy": -9, "fontSize": 11, "color": "#A8A8A8", "text": "3/3"},
"encoding": {"x": {"datum": -16.875, "type": "quantitative"}, "y": {"datum": 0.8495, "type": "quantitative"}}
},
{
"data": {"name": "one"},
"mark": {"type": "text", "align": "right", "baseline": "middle", "dx": -5, "dy": -9, "fontSize": 11, "color": "#A8A8A8", "text": "3"},
"encoding": {"x": {"datum": 443.125, "type": "quantitative"}, "y": {"datum": 0.8495, "type": "quantitative"}}
},
{
"data": {"name": "one"},
"mark": {"type": "point", "filled": true, "fill": "#C0C0C0", "opacity": 1, "size": 1600, "xOffset": 21, "yOffset": -1, "shape": "M-1,-0.325L1,-0.325L1,0.325L-1,0.325Z", "clip": false},
"encoding": {"x": {"datum": 443.125, "type": "quantitative"}, "y": {"datum": 0.8495, "type": "quantitative"}}
},
{
"data": {"name": "one"},
"mark": {"type": "text", "align": "center", "baseline": "bottom", "dx": 20, "dy": 3, "fontSize": 10, "color": "white", "text": "0.8495", "clip": false},
"encoding": {"x": {"datum": 443.125, "type": "quantitative"}, "y": {"datum": 0.8495, "type": "quantitative"}}
},
{
"data": {"name": "one"},
"mark": {"type": "point", "filled": true, "fill": "black", "opacity": 1, "size": 1600, "xOffset": 21, "shape": "M-1,-0.325L1,-0.325L1,0.325L-1,0.325Z", "clip": false},
"encoding": {"x": {"datum": 443.125, "type": "quantitative"}, "y": {"datum": 0.8492, "type": "quantitative"}}
},
{
"data": {"name": "one"},
"mark": {"type": "text", "align": "center", "baseline": "middle", "dx": 20, "fontSize": 11, "fontWeight": "bold", "color": "white", "text": "0.8492", "clip": false},
"encoding": {"x": {"datum": 443.125, "type": "quantitative"}, "y": {"datum": 0.8492, "type": "quantitative"}}
},
{
"data": {"name": "one"},
"mark": {"type": "text", "align": "left", "baseline": "middle", "dx": 1, "dy": 7, "font": "DejaVu Sans", "fontSize": 7, "color": "black", "text": "▼"},
"encoding": {"x": {"datum": -16.875, "type": "quantitative"}, "y": {"datum": 0.866, "type": "quantitative"}}
},
{
"data": {"name": "one"},
"mark": {"type": "text", "align": "left", "baseline": "middle", "dx": 11, "dy": 7, "fontSize": 11, "color": "black", "text": "EURGBP,H1\u00a0\u00a00.8491 0.8498 0.8491 0.8492"},
"encoding": {"x": {"datum": -16.875, "type": "quantitative"}, "y": {"datum": 0.866, "type": "quantitative"}}
},
{
"data": {"name": "one"},
"mark": {"type": "point", "shape": "triangle-down", "filled": true, "fill": "#B0B0B0", "opacity": 1, "size": 50, "yOffset": 2},
"encoding": {"x": {"datum": 346.2, "type": "quantitative"}, "y": {"datum": 0.866, "type": "quantitative"}}
},
{
"data": {"name": "one"},
"mark": {"type": "point", "filled": true, "fill": "#F0F0F0", "stroke": "#8C8C8C", "strokeWidth": 1, "opacity": 1, "size": 400, "shape": "M-0.7,-1L0.7,-1L0.7,1L-0.7,1Z"},
"encoding": {"x": {"datum": -15.125, "type": "quantitative"}, "y": {"datum": 0.82465, "type": "quantitative"}}
},
{
"data": {"name": "one"},
"mark": {"type": "text", "align": "center", "baseline": "middle", "fontSize": 11, "color": "black", "text": "?"},
"encoding": {"x": {"datum": -15.125, "type": "quantitative"}, "y": {"datum": 0.82465, "type": "quantitative"}}
},
{
"data": {"name": "one"},
"mark": {"type": "text", "align": "left", "baseline": "middle", "fontSize": 15.2, "fontWeight": "bold", "color": "#2E8B57", "text": "ATR:20: 65\u00a0\u00a0Пт.: 14"},
"encoding": {"x": {"datum": -8.375, "type": "quantitative"}, "y": {"datum": 0.82451, "type": "quantitative"}}
},
{
"data": {"name": "one"},
"mark": {"type": "text", "align": "left", "baseline": "middle", "fontSize": 17.5, "fontWeight": "bold", "color": "#1E90FF", "text": "Маржа: 314 / 157"},
"encoding": {"x": {"datum": 41.875, "type": "quantitative"}, "y": {"datum": 0.82451, "type": "quantitative"}}
},
{
"data": {"name": "one"},
"mark": {"type": "text", "align": "left", "baseline": "middle", "fontSize": 17.5, "fontWeight": "bold", "color": "#1E90FF", "text": "Ставка: 0.25"},
"encoding": {"x": {"datum": 92.125, "type": "quantitative"}, "y": {"datum": 0.82451, "type": "quantitative"}}
},
{
"data": {"name": "one"},
"mark": {"type": "text", "align": "right", "baseline": "middle", "fontSize": 13, "color": "#FF6666", "text": "Пятница / 2016.09.16 - 09:44:46"},
"encoding": {"x": {"datum": 441.375, "type": "quantitative"}, "y": {"datum": 0.82451, "type": "quantitative"}}
}
]
}
